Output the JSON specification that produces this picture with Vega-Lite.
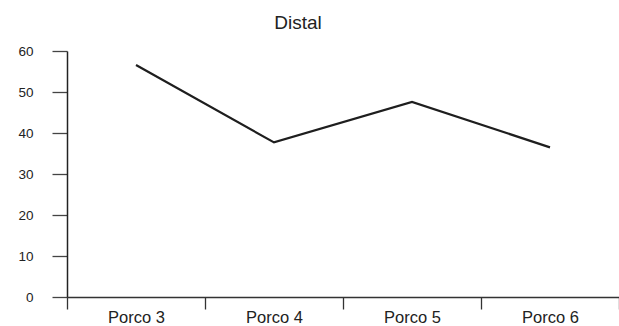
{
  "$schema": "https://vega.github.io/schema/vega-lite/v6.json",
  "width": 552,
  "height": 246,
  "autosize": {"type": "none"},
  "padding": {"left": 67, "top": 51, "right": 0, "bottom": 29},
  "title": {
    "text": "Distal",
    "font": "Liberation Sans",
    "fontSize": 19,
    "fontWeight": "normal",
    "color": "#222222",
    "anchor": "middle",
    "dx": -45,
    "baseline": "alphabetic",
    "offset": -4
  },
  "data": {
    "values": [
      {"porco": "Porco 3", "valor": 56.6},
      {"porco": "Porco 4", "valor": 37.7},
      {"porco": "Porco 5", "valor": 47.6},
      {"porco": "Porco 6", "valor": 36.5}
    ]
  },
  "mark": {"type": "line", "color": "#1e1e1e", "strokeWidth": 2.2},
  "encoding": {
    "x": {
      "field": "porco",
      "type": "nominal",
      "sort": null,
      "scale": {"type": "band", "paddingInner": 0, "paddingOuter": 0},
      "axis": {
        "title": null,
        "labelAngle": 0,
        "tickBand": "extent",
        "tickSize": 12,
        "labelPadding": 0,
        "labelFont": "Liberation Sans",
        "labelFontSize": 16.5,
        "labelColor": "#222222",
        "domainColor": "#333333",
        "domainWidth": 1.3,
        "tickColor": "#333333",
        "tickWidth": 1.3,
        "grid": false
      }
    },
    "y": {
      "field": "valor",
      "type": "quantitative",
      "scale": {"domain": [0, 60], "nice": false},
      "axis": {
        "title": null,
        "values": [0, 10, 20, 30, 40, 50, 60],
        "tickSize": 15,
        "labelPadding": 19,
        "labelFont": "Liberation Sans",
        "labelFontSize": 13.5,
        "labelColor": "#222222",
        "domainColor": "#222222",
        "domainWidth": 1.5,
        "tickColor": "#444444",
        "tickWidth": 1.3,
        "grid": false
      }
    }
  },
  "config": {"view": {"stroke": null}}
}
